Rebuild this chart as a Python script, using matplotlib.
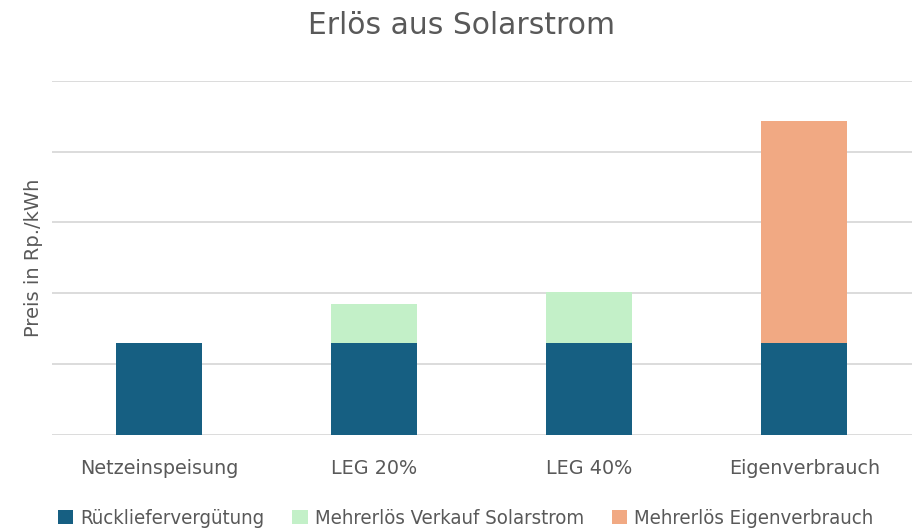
import matplotlib
matplotlib.use("Agg")
import matplotlib.pyplot as plt
from matplotlib import font_manager
import numpy as np

categories = ["Netzeinspeisung", "LEG 20%", "LEG 40%", "Eigenverbrauch"]
rueckliefer = [6.47, 6.47, 6.47, 6.47]
mehr_verkauf = [0.0, 2.75, 3.6, 0.0]
mehr_eigen = [0.0, 0.0, 0.0, 15.7]
series_names = ["Rückliefervergütung", "Mehrerlös Verkauf Solarstrom", "Mehrerlös Eigenverbrauch"]
colors = ["#165f82", "#c3f0c8", "#f1a983"]

fig = plt.figure(figsize=(9.22, 5.32), dpi=100)
ax = fig.add_axes([0.0564, 0.1823, 0.9326, 0.666])

x = np.arange(len(categories))
w = 0.4
b1 = ax.bar(x, rueckliefer, w, color=colors[0], label=series_names[0], zorder=3)
b2 = ax.bar(x, mehr_verkauf, w, bottom=rueckliefer, color=colors[1], label=series_names[1], zorder=3)
bottom3 = np.array(rueckliefer) + np.array(mehr_verkauf)
b3 = ax.bar(x, mehr_eigen, w, bottom=bottom3, color=colors[2], label=series_names[2], zorder=3)

ax.set_xlim(-0.5, 3.5)
ax.set_ylim(0, 25)
ax.set_yticks(np.arange(0, 26, 5))
ax.set_yticklabels([])
ax.tick_params(axis='y', length=0)
ax.tick_params(axis='x', length=0, pad=17, labelsize=13.8, labelcolor="#595959")
ax.set_xticks(x)
ax.set_xticklabels(categories)
ax.grid(axis='y', color="#d9d9d9", linewidth=1.3, zorder=0)
for s in ax.spines.values():
    s.set_visible(False)

ax.set_ylabel("Preis in Rp./kWh", fontsize=14, color="#595959", labelpad=0)
ax.yaxis.set_label_coords(-0.011, 0.5)
fig.text(0.5, 0.953, "Erlös aus Solarstrom", ha="center", va="center", fontsize=21.4, color="#595959")

leg = fig.legend(handles=[b1, b2, b3], labels=series_names, loc="lower center",
                 bbox_to_anchor=(0.505, -0.027), ncol=3, frameon=False,
                 prop=font_manager.FontProperties(family="DejaVu Sans", stretch="condensed", size=14.6),
                 handlelength=0.75, handleheight=0.75, handletextpad=0.35, columnspacing=1.4,
                 labelcolor="#595959")

fig.savefig("out.png", dpi=100)
